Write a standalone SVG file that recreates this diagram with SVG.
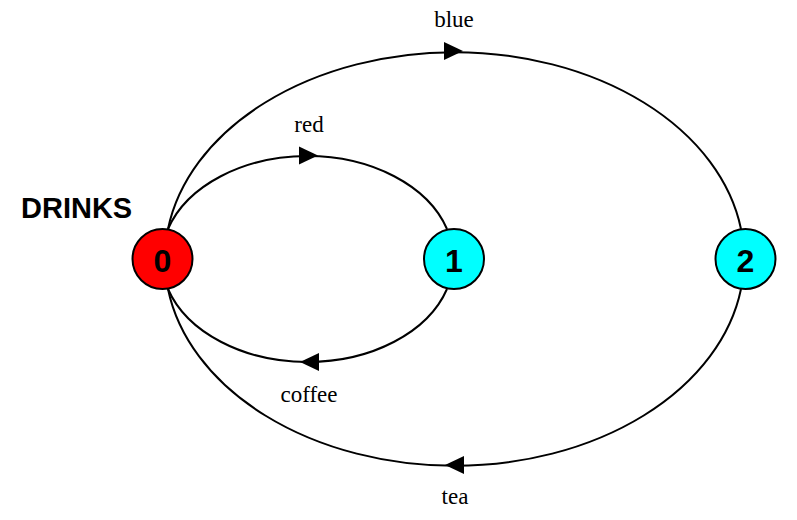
<svg xmlns="http://www.w3.org/2000/svg" width="797" height="520" viewBox="0 0 797 520">
<style>
.edge{fill:none;stroke:#000;stroke-width:2}
.arrow{fill:#000;stroke:none}
.node{stroke:#000;stroke-width:2}
.nlabel{font-family:"Liberation Sans",Arial,sans-serif;font-weight:bold;font-size:32px;text-anchor:middle;fill:#000}
.elabel{font-family:"Liberation Serif","Times New Roman",serif;font-size:23px;text-anchor:middle;fill:#000}
.title{font-family:"Liberation Sans",Arial,sans-serif;font-weight:bold;font-size:29px;fill:#000}
</style>
<rect width="797" height="520" fill="#fff"/>
<text class="title" x="21" y="218">DRINKS</text>
<g id="connectors">
  <g id="e-red">
    <path class="edge" d="M168,229 A146,103.5 0 0 1 447,229"/>
    <polygon class="arrow" points="318,155.5 299,146.5 299,164.5"/>
    <text class="elabel" x="309" y="132">red</text>
  </g>
  <g id="e-coffee">
    <path class="edge" d="M447,289 A146,103.5 0 0 1 168,289"/>
    <polygon class="arrow" points="300,362 319,353 319,371"/>
    <text class="elabel" x="309" y="402">coffee</text>
  </g>
  <g id="e-blue">
    <path class="edge" d="M168,229 A289.6,207 0 0 1 741,229"/>
    <polygon class="arrow" points="463,51 444,42 444,60"/>
    <text class="elabel" x="454" y="27">blue</text>
  </g>
  <g id="e-tea">
    <path class="edge" d="M741,289 A289.6,207 0 0 1 168,289"/>
    <polygon class="arrow" points="445,465 464,456 464,474"/>
    <text class="elabel" x="455" y="504">tea</text>
  </g>
</g>
<g id="node0">
  <circle class="node" cx="162.5" cy="259" r="30" fill="#ff0000"/>
  <text class="nlabel" x="162.5" y="272">0</text>
</g>
<g id="node1">
  <circle class="node" cx="454" cy="259" r="30" fill="#00ffff"/>
  <text class="nlabel" x="454" y="272">1</text>
</g>
<g id="node2">
  <circle class="node" cx="745.5" cy="259" r="30" fill="#00ffff"/>
  <text class="nlabel" x="745.5" y="272">2</text>
</g>
</svg>
